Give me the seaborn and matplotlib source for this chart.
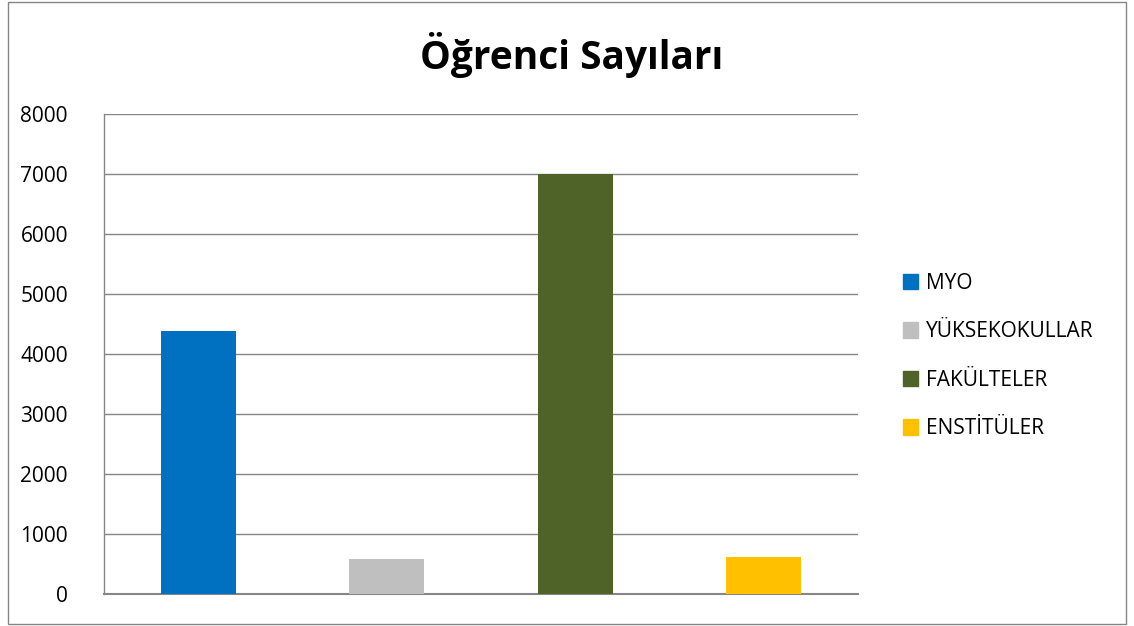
import matplotlib.pyplot as plt
import matplotlib.patches as mpatches
import pandas as pd
import seaborn as sns

categories = ["MYO", "YÜKSEKOKULLAR", "FAKÜLTELER", "ENSTİTÜLER"]
counts = [4390, 585, 7000, 620]
colors = ["#0070c0", "#bfbfbf", "#4f6228", "#ffc000"]
yticks = [0, 1000, 2000, 3000, 4000, 5000, 6000, 7000, 8000]

df = pd.DataFrame({"grup": categories, "sayi": counts})

sns.set_style("white")
plt.rcParams["font.family"] = ["Open Sans", "DejaVu Sans"]
plt.rcParams["text.color"] = "black"
plt.rcParams["ytick.color"] = "black"

fig = plt.figure(figsize=(11.34, 6.26), dpi=100)
ax = fig.add_axes([104 / 1134, 1 - 594 / 626, 754 / 1134, 480 / 626])

sns.barplot(data=df, x="grup", y="sayi", hue="grup", palette=colors,
            width=0.4, dodge=False, legend=False, ax=ax, zorder=3,
            saturation=1, linewidth=0)

ax.set_ylim(0, 8000)
ax.set_yticks(yticks)
ax.set_yticklabels([str(t) for t in yticks], fontsize=15)
ax.set_xticks([])
ax.set_xlabel("")
ax.set_ylabel("")
ax.tick_params(axis="y", length=0, pad=26, labelcolor="black")

ax.grid(axis="y", color="#868686", linewidth=1, zorder=0)
for side in ["top", "right"]:
    ax.spines[side].set_visible(False)
ax.spines["left"].set_color("#868686")
ax.spines["bottom"].set_color("#868686")
ax.spines["bottom"].set_linewidth(1.5)
ax.spines["left"].set_linewidth(1)

fig.suptitle("Öğrenci Sayıları", x=572 / 1134, y=1 - 55 / 626, va="center",
             fontsize=28, fontweight="bold", color="black")

handles = [mpatches.Patch(color=c, label=l) for c, l in zip(colors, categories)]
leg = fig.legend(handles=handles, loc="center left",
                 bbox_to_anchor=(884 / 1134, 1 - 356 / 626),
                 frameon=False, fontsize=15, handlelength=0.75, handleheight=0.75,
                 handletextpad=0.35, labelspacing=1.32)
for t in leg.get_texts():
    t.set_color("black")

# outer chart frame
fig.patches.append(mpatches.Rectangle((8 / 1134, 2 / 626), 1118 / 1134, 622 / 626,
                                      transform=fig.transFigure, fill=False,
                                      edgecolor="#868686", linewidth=1))

fig.savefig("out.png", dpi=100)
